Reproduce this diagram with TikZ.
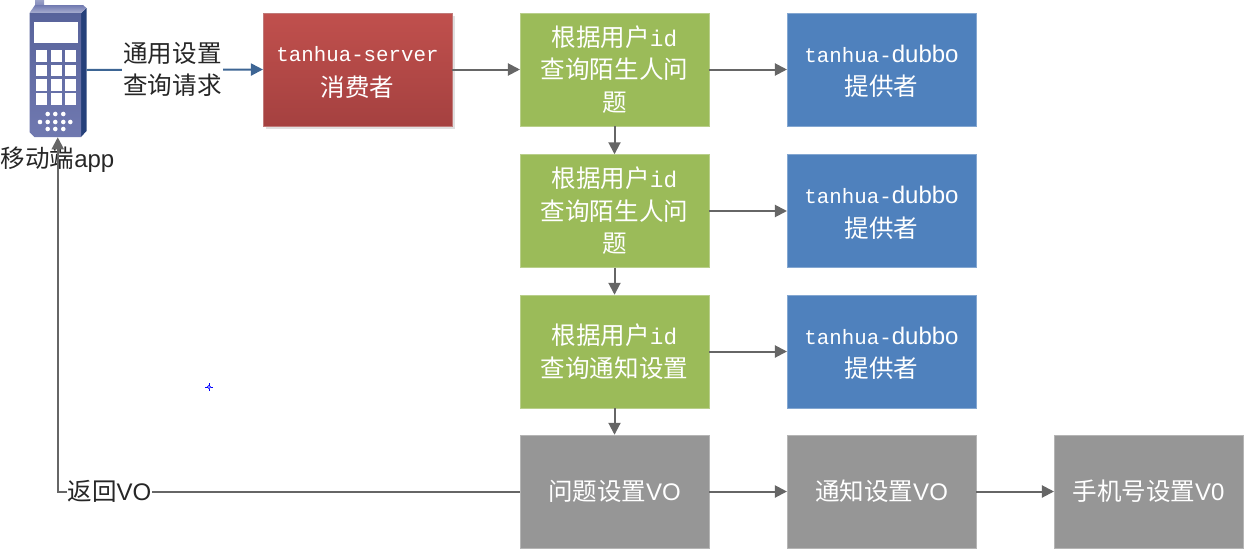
\documentclass[tikz,border=0pt]{standalone}
\usepackage{fontspec}
\setmainfont{Noto Sans CJK SC}
\newfontfamily\lm{Liberation Mono}
\newfontfamily\ls{Liberation Sans}
\usetikzlibrary{arrows.meta,positioning}
\definecolor{boxgreen}{HTML}{9BBB59}
\definecolor{boxblue}{HTML}{4F81BD}
\definecolor{boxgray}{HTML}{969696}
\definecolor{boxredtop}{HTML}{C0504D}
\definecolor{boxredbot}{HTML}{A54140}
\definecolor{linegray}{HTML}{666666}
\definecolor{lineblue}{HTML}{3D6594}
\definecolor{phonelight}{HTML}{7079B0}
\definecolor{phonedark}{HTML}{58639B}
\definecolor{phoneside}{HTML}{25407A}
\definecolor{inktext}{HTML}{262626}
\tikzset{
  every node/.style={font=\fontsize{18.4}{24.4}\selectfont},
  flowbox/.style={rectangle,minimum width=141.4pt,minimum height=84.7pt,inner sep=0pt,align=center,text=white,line width=0.4pt},
  greenbox/.style={flowbox,fill=boxgreen,draw=boxgreen!70!white},
  bluebox/.style={flowbox,fill=boxblue,draw=boxblue!70!white},
  graybox/.style={flowbox,fill=boxgray,draw=boxgray!70!white},
  redbox/.style={flowbox,top color=boxredtop,bottom color=boxredbot,draw=boxredbot!70!white},
  flow/.style={draw=linegray,line width=1.5pt,-{Triangle[length=9pt,width=9pt,fill=linegray]}},
  flowblue/.style={draw=lineblue,line width=1.5pt,-{Triangle[length=9pt,width=9pt,fill=lineblue]}},
  tag/.style={fill=white,inner sep=1pt,align=center,text=inktext},
  pkey/.style={fill=white,draw=none},
}
\newcommand{\mono}[1]{{\lm\fontsize{15.6}{24.4}\selectfont #1}}
\newcommand{\monoid}[1]{{\lm\fontsize{17}{24.4}\selectfont #1}}
\newcommand{\arial}[1]{{\ls\fontsize{18}{24.4}\selectfont #1}}
\newcommand{\padtop}{\rule{0pt}{15.5pt}}
\begin{document}
\begin{tikzpicture}[x=0.75pt,y=-0.75pt]
\useasboundingbox (0,0) rectangle (1251,557);
% phone
\fill[phoneside] (81,13) -- (86.5,8) -- (86.5,131) -- (81,137) -- cycle;
\shade[top color=phonelight!70!white,bottom color=phonelight] (35,0) rectangle (44,9);
\shade[top color=phonelight,bottom color=phonelight!60!white] (35,5) -- (83,5) -- (86.5,8) -- (81,13) -- (29.5,13) -- cycle;
\shade[top color=phonedark,bottom color=phonelight] (29.5,13) -- (81,13) -- (81,137) -- (34.5,137) -- (29.5,132) -- cycle;
\fill[pkey] (34,22) rectangle (78,43);
\foreach \ky in {50,64.5,79,93}{
  \foreach \kx in {35.5,50.5,64.5}{
    \fill[pkey] (\kx,\ky) rectangle +(11,11.5);
  }
}
\foreach \dx in {47.7,55.3,63.3}{
  \fill[white] (\dx,114) circle (2.3);
  \fill[white] (\dx,129) circle (2.3);
}
\foreach \dx in {40,47.7,55.3,63.3,70.3}{
  \fill[white] (\dx,122) circle (2.3);
}
\node[rectangle,minimum width=42.75pt,minimum height=100.5pt,inner sep=0pt] (phone) at (57.75,70) {};
\node[text=inktext,inner sep=0pt] (applabel) at (57.5,160) {移动端\arial{app}};
% boxes
\fill[black!12] (266,16) rectangle (455,129);
\node[redbox] (server) at (357.5,69.5) {\padtop\mono{tanhua-server}\\[1.5pt]消费者};
\node[greenbox] (g1) at (614.5,69.5) {根据用户\monoid{id}\\查询陌生人问\\题};
\node[greenbox] (g2) at (614.5,211) {根据用户\monoid{id}\\查询陌生人问\\题};
\node[greenbox] (g3) at (614.5,351.5) {根据用户\monoid{id}\\查询通知设置};
\node[bluebox] (b1) at (881.5,69.5) {\padtop\mono{tanhua-}\arial{dubbo}\\[0.75pt]提供者};
\node[bluebox] (b2) at (881.5,211) {\padtop\mono{tanhua-}\arial{dubbo}\\[0.75pt]提供者};
\node[bluebox] (b3) at (881.5,351.5) {\padtop\mono{tanhua-}\arial{dubbo}\\[0.75pt]提供者};
\node[graybox] (v1) at (614.5,491.5) {问题设置\arial{VO}};
\node[graybox] (v2) at (881.5,491.5) {通知设置\arial{VO}};
\node[graybox] (v3) at (1148.5,491.5) {手机号设置\arial{V0}};
% connectors
\draw[flowblue] (phone.east) -- (server.west);
\node[tag] (reqlabel) at (172.5,69.5) {通用设置\\查询请求};
\draw[flow] (server.east) -- (g1.west);
\draw[flow] (g1.east) -- (b1.west);
\draw[flow] (g2.east) -- (b2.west);
\draw[flow] (g3.east) -- (b3.west);
\draw[flow] (g1.south) -- (g2.north);
\draw[flow] (g2.south) -- (g3.north);
\draw[flow] (g3.south) -- (v1.north);
\draw[flow] (v1.east) -- (v2.west);
\draw[flow] (v2.east) -- (v3.west);
\draw[flow] (v1.west) -- (v1.west -| phone.south) -- (phone.south);
\node[tag,inner sep=0.5pt] (retlabel) at (109.5,491) {返回\arial{VO}};
% stray marker
\draw[blue,line width=0.75pt] (205,387) -- (207.5,387) (210.5,387) -- (213,387) (209,383) -- (209,385.5) (209,388.5) -- (209,391);
\draw[blue,line width=0.5pt] (209,387) circle (1.6);
\end{tikzpicture}
\end{document}
